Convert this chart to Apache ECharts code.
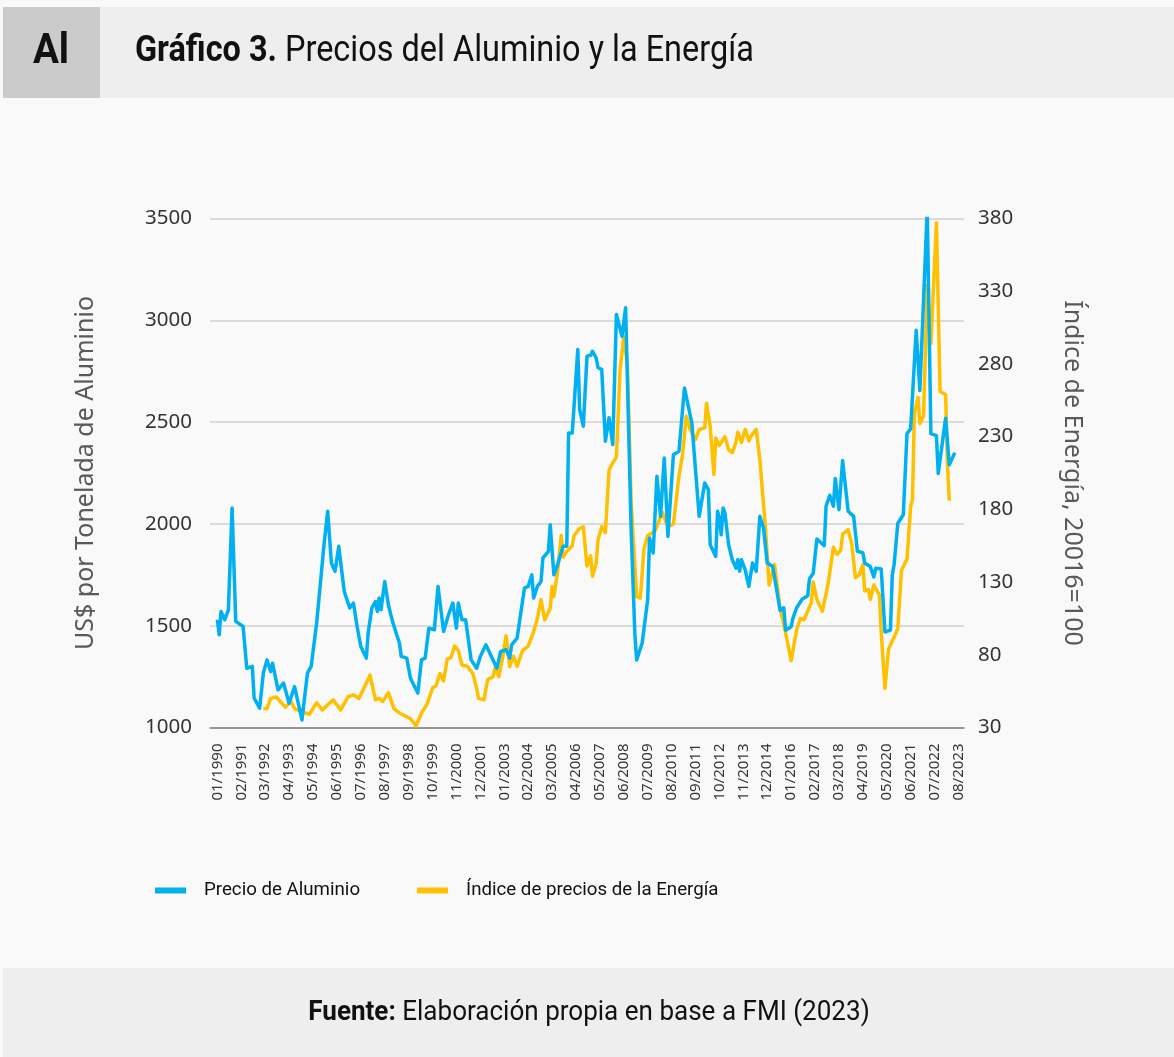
<!DOCTYPE html>
<html>
<head>
<meta charset="utf-8">
<script src="https://cdn.jsdelivr.net/npm/echarts@6/dist/echarts.min.js"></script>
<style>
html,body{margin:0;padding:0;background:#f9f9f9;}
#chart{width:1174px;height:1057px;}
</style>
</head>
<body>
<div id="chart"></div>
<script>
// Month index: 0 = 01/1990
const LAST_MONTH_IDX = 403; // 08/2023

const tickLabels = ['01/1990','02/1991','03/1992','04/1993','05/1994','06/1995','07/1996','08/1997',
  '09/1998','10/1999','11/2000','12/2001','01/2003','02/2004','03/2005','04/2006','05/2007','06/2008',
  '07/2009','08/2010','09/2011','10/2012','11/2013','12/2014','01/2016','02/2017','03/2018','04/2019',
  '05/2020','06/2021','07/2022','08/2023'];

const aluMonthIdx = [0,1,2,4,6,8,10,14,16,19,20,23,25,27,29,30,33,36,39,42,46,49,51,54,58,60,62,64,66,69,
  72,74,76,78,81,82,84,86,87,88,89,91,93,95,97,99,100,103,105,109,111,113,115,118,120,123,126,128,130,131,
  133,135,138,141,143,146,149,152,154,157,159,160,163,164,167,169,171,172,174,176,177,180,181,183,185,188,
  190,191,193,196,197,199,201,203,204,206,207,209,211,213,215,217,220,222,225,227,228,231,234,235,237,239,
  241,243,245,248,251,254,258,262,265,267,268,271,272,273,274,275,276,277,278,280,282,283,284,285,287,289,
  291,293,295,297,299,302,306,308,309,312,313,315,318,321,322,324,326,330,331,333,335,336,338,340,343,346,
  348,351,352,355,357,358,361,363,366,367,368,370,373,375,377,380,382,386,388,391,392,396,398,401];
const aluValues = [1530,1455,1570,1529,1578,2078,1521,1496,1291,1300,1144,1095,1267,1332,1275,1316,1185,1218,1119,1201,1037,1267,1300,1513,1898,2062,1808,1767,1890,1668,
  1587,1611,1496,1398,1341,1464,1587,1619,1570,1636,1578,1717,1603,1529,1470,1415,1349,1341,1242,1169,1332,1341,1488,1480,1693,1472,1562,1611,1488,1611,
  1529,1529,1332,1291,1349,1406,1349,1291,1373,1382,1341,1406,1439,1439,1685,1693,1750,1636,1693,1717,1832,1865,1996,1750,1800,1890,
  1890,2447,2447,2857,2562,2480,2824,2828,2848,2815,2767,2759,2406,2521,2390,3029,2922,3062,1972,1464,1332,1415,1627,1931,1857,2234,
  2037,2324,1939,2340,2357,2668,2496,2037,2201,2168,1898,1840,2062,2029,1947,2078,2054,2045,1898,1824,1783,1824,1767,1824,1775,1693,
  1808,1767,2037,1980,1808,1791,1575,1588,1478,1495,1537,1588,1630,1647,1732,1757,1926,1893,2087,2141,2087,2223,2070,2311,2062,2037,
  1867,1858,1808,1791,1740,1782,1778,1469,1478,1749,1800,2003,2045,2443,2468,2951,2655,3544,2443,2434,2248,2519,2290,2350];

const energyMonthIdx = [25,27,29,32,37,40,42,46,50,54,57,63,67,71,74,77,83,86,88,90,93,96,99,100,105,108,111,114,117,119,
  121,123,125,127,129,131,133,136,139,141,142,145,147,150,151,153,155,157,159,161,163,166,169,172,174,175,176,178,181,182,
  183,185,187,188,190,193,194,197,199,201,203,204,206,207,209,211,213,215,217,219,221,223,225,228,230,232,234,238,242,245,
  248,251,253,255,257,260,262,265,266,268,270,271,273,276,278,280,282,283,285,287,289,290,293,295,298,300,303,306,309,312,
  315,317,319,321,323,324,326,329,332,335,337,339,340,343,345,347,349,351,352,354,355,357,360,361,363,365,368,370,372,375,
  377,378,379,381,382,384,386,388,391,393,396,397,398];
const energyValues = [43,43,50,51,44,48,43,41,39,47,42,49,42,51,52.5,50,66,49,50,48,54,43,40,39,36,31,40,46,57,59,
  67,62,77,78,86,83,73,72,67,57,50,49,63,65,71,65,77,93,72,79,72,83,86,96,105,104,118,104,112,127,
  120,137,162,147,151,155,162,167,168,141,148,134,143,159,168,164,207,212,216,276,299,279,185,120,119,153,162,165,178,168,
  170,203,218,244,235,228,235,236,253,237,204,229,224,230,221,219,226,233,226,235,227,230,235,214,168,128,142,112,95,76,
  97,105,104,110,116,130,118,110,128,154,149,152,163,166,156,133,135,142,124,125,118,128,121,95,57,84,92,98,138,146,
  182,187,246,257,239,244,334,294,377,261,259,211,186];

const PAD_BEFORE = 4, PAD_AFTER = 3;
function monthLabel(idx) {
  const y = 1990 + Math.floor(idx / 12);
  const mo = ((idx % 12) + 12) % 12 + 1;
  return String(mo).padStart(2, '0') + '/' + y;
}
const categories = [];
for (let i = -PAD_BEFORE; i <= LAST_MONTH_IDX + PAD_AFTER; i++) categories.push(monthLabel(i));
const tickSet = new Set(tickLabels);

const aluData = aluMonthIdx.map((m, i) => [monthLabel(m), aluValues[i]]);
const energyData = energyMonthIdx.map((m, i) => [monthLabel(m), energyValues[i]]);

const BLUE = '#00b0f0', GOLD = '#ffc000';
const NARROW = 'Roboto, "Liberation Sans", sans-serif';
const AXISFONT = '"Noto Sans", "Open Sans", sans-serif';

const chart = echarts.init(document.getElementById('chart'), null, {renderer: 'canvas'});
chart.setOption({
  animation: false,
  backgroundColor: '#f9f9f9',
  graphic: [
    {type: 'rect', shape: {x: 3, y: 7, width: 1171, height: 91}, style: {fill: '#eeeeee'}},
    {type: 'rect', shape: {x: 3, y: 7, width: 97, height: 91}, style: {fill: '#cbcbcb'}},
    {type: 'text', x: 51, y: 52, scaleX: 0.92, style: {text: 'Al', fontFamily: NARROW, fontWeight: 'bold', fontSize: 42, fill: '#111', align: 'center', verticalAlign: 'middle'}},
    {type: 'text', x: 135, y: 52, scaleX: 0.877, style: {
      text: '{b|Gráfico 3.} Precios del Aluminio y la Energía',
      fontFamily: NARROW, fontSize: 37, fill: '#111', verticalAlign: 'middle', align: 'left',
      rich: {b: {fontWeight: 'bold', fontFamily: NARROW, fontSize: 37, fill: '#111'}}
    }},
    {type: 'rect', shape: {x: 3, y: 968, width: 1171, height: 89}, style: {fill: '#eeeeee'}},
    {type: 'text', x: 589, y: 1013, scaleX: 0.93, style: {
      text: '{b|Fuente:} Elaboración propia en base a FMI (2023)',
      fontFamily: NARROW, fontSize: 28, fill: '#111', verticalAlign: 'middle', align: 'center',
      rich: {b: {fontWeight: 'bold', fontFamily: NARROW, fontSize: 28, fill: '#111'}}
    }}
  ],
  legend: {
    left: 150, top: 876, icon: 'rect', itemWidth: 31, itemHeight: 6, itemGap: 57,
    textStyle: {fontFamily: NARROW, fontSize: 18.7, color: '#111', padding: [0, 0, 0, 13]},
    data: ['Precio de Aluminio', 'Índice de precios de la Energía']
  },
  grid: {left: 210, right: 210, top: 218.5, bottom: 329.5, containLabel: false},
  xAxis: {
    type: 'category', data: categories, boundaryGap: false,
    axisTick: {show: false},
    axisLine: {lineStyle: {color: '#808080', width: 1.5}},
    axisLabel: {interval: (i, v) => tickSet.has(v), rotate: 90, margin: 16, fontSize: 15, color: '#333', fontFamily: AXISFONT},
    splitLine: {show: false}
  },
  yAxis: [
    {
      type: 'value', position: 'left', min: 1000, max: 3500, interval: 500,
      name: 'US$ por Tonelada de Aluminio', nameLocation: 'middle', nameGap: 112,
      nameTextStyle: {fontSize: 25, color: '#595959', fontFamily: AXISFONT},
      axisLabel: {fontSize: 20.5, color: '#333', margin: 18, fontFamily: AXISFONT, formatter: v => String(v)},
      axisLine: {show: false}, axisTick: {show: false},
      splitLine: {lineStyle: {color: '#d0d0d0', width: 1.5}}
    },
    {
      type: 'value', position: 'right', min: 30, max: 380, interval: 50,
      name: 'Índice de Energía, 20016=100', nameLocation: 'middle', nameGap: 96, nameRotate: -90,
      nameTextStyle: {fontSize: 25, color: '#595959', fontFamily: AXISFONT},
      axisLabel: {fontSize: 20.5, color: '#333', margin: 14, fontFamily: AXISFONT, formatter: v => String(v)},
      axisLine: {show: false}, axisTick: {show: false},
      splitLine: {show: false}
    }
  ],
  series: [
    {name: 'Precio de Aluminio', type: 'line', yAxisIndex: 0, data: aluData, showSymbol: false, symbol: 'none',
     lineStyle: {width: 3.5, color: BLUE, join: 'round'}, itemStyle: {color: BLUE}, z: 3},
    {name: 'Índice de precios de la Energía', type: 'line', yAxisIndex: 1, data: energyData, showSymbol: false, symbol: 'none',
     lineStyle: {width: 3.5, color: GOLD, join: 'round'}, itemStyle: {color: GOLD}, z: 2}
  ]
});
</script>
</body>
</html>
